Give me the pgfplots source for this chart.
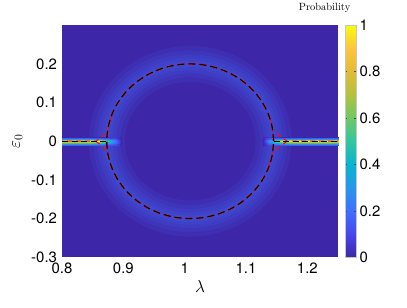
\documentclass[border=0pt]{standalone}
\usepackage{fontspec}
\newfontfamily\helv{TeX Gyre Heros}
\newfontfamily\lmr{Latin Modern Roman}
\usepackage{pgfplots}
\usepackage{pgfplotstable}
\pgfplotsset{compat=1.18}
\definecolor{bgc}{rgb}{0.2422,0.1504,0.6603}
\definecolor{glowc}{rgb}{0.2440,0.4358,0.9988}
\definecolor{redc}{rgb}{0.95,0.05,0.05}

\pgfplotstableread{
x y
1.145 0
1.1429 0.0347
1.1368 0.0684
1.1268 0.1
1.1132 0.1286
1.0964 0.1532
1.077 0.1732
1.0555 0.1879
1.0326 0.1970
1.009 0.2
0.9854 0.1970
0.9625 0.1879
0.941 0.1732
0.9216 0.1532
0.9048 0.1286
0.8912 0.1
0.8812 0.0684
0.8751 0.0347
0.873 0
0.8751 -0.0347
0.8812 -0.0684
0.8912 -0.1
0.9048 -0.1286
0.9216 -0.1532
0.941 -0.1732
0.9625 -0.1879
0.9854 -0.1970
1.009 -0.2
1.0326 -0.1970
1.0555 -0.1879
1.077 -0.1732
1.0964 -0.1532
1.1132 -0.1286
1.1268 -0.1
1.1368 -0.0684
1.1429 -0.0347
1.145 0
}\ellipsedata

\pgfplotstableread{
x y
0.8 0
0.855 0
0.866 0.013
0.8745 0.03
0.8812 0.0684
}\redleftup

\pgfplotstableread{
x y
0.855 0
0.866 -0.013
0.8745 -0.03
0.8812 -0.0684
}\redleftdown

\pgfplotstableread{
x y
1.25 0
1.167 0
1.155 0.014
1.1435 0.03
1.1368 0.0684
}\redrightup

\pgfplotstableread{
x y
1.167 0
1.155 -0.014
1.1435 -0.03
1.1368 -0.0684
}\redrightdown

\pgfplotstableread{
x y c
0.8 -0.012 0
0.845 -0.012 0
0.862 -0.012 0
0.873 -0.012 0.03
0.884 -0.012 0.06
0.897 -0.012 0

0.8 -0.007 0.3
0.845 -0.007 0.3
0.862 -0.007 0.27
0.873 -0.007 0.2
0.884 -0.007 0.15
0.897 -0.007 0

0.8 -0.003 0.75
0.845 -0.003 0.75
0.862 -0.003 0.68
0.873 -0.003 0.42
0.884 -0.003 0.24
0.897 -0.003 0

0.8 0 1
0.845 0 1
0.862 0 0.9
0.873 0 0.55
0.884 0 0.28
0.897 0 0

0.8 0.003 0.75
0.845 0.003 0.75
0.862 0.003 0.68
0.873 0.003 0.42
0.884 0.003 0.24
0.897 0.003 0

0.8 0.007 0.3
0.845 0.007 0.3
0.862 0.007 0.27
0.873 0.007 0.2
0.884 0.007 0.15
0.897 0.007 0

0.8 0.012 0
0.845 0.012 0
0.862 0.012 0
0.873 0.012 0.03
0.884 0.012 0.06
0.897 0.012 0
}\leftbar

\pgfplotstableread{
x y c
1.127 -0.012 0
1.137 -0.012 0.06
1.146 -0.012 0.03
1.158 -0.012 0
1.175 -0.012 0
1.25 -0.012 0

1.127 -0.007 0
1.137 -0.007 0.15
1.146 -0.007 0.2
1.158 -0.007 0.26
1.175 -0.007 0.3
1.25 -0.007 0.3

1.127 -0.003 0
1.137 -0.003 0.24
1.146 -0.003 0.42
1.158 -0.003 0.64
1.175 -0.003 0.75
1.25 -0.003 0.75

1.127 0 0
1.137 0 0.28
1.146 0 0.55
1.158 0 0.85
1.175 0 0.95
1.25 0 0.95

1.127 0.003 0
1.137 0.003 0.24
1.146 0.003 0.42
1.158 0.003 0.64
1.175 0.003 0.75
1.25 0.003 0.75

1.127 0.007 0
1.137 0.007 0.15
1.146 0.007 0.2
1.158 0.007 0.26
1.175 0.007 0.3
1.25 0.007 0.3

1.127 0.012 0
1.137 0.012 0.06
1.146 0.012 0.03
1.158 0.012 0
1.175 0.012 0
1.25 0.012 0
}\rightbar

\begin{document}
\begin{tikzpicture}
\begin{axis}[
  name=main,
  scale only axis,
  width=276bp, height=232bp,
  xmin=0.8, xmax=1.25, ymin=-0.3, ymax=0.3,
  xtick={0.8,0.9,1,1.1,1.2},
  ytick={-0.3,-0.2,-0.1,0,0.1,0.2},
  axis background/.style={fill=bgc},
  axis line style={draw=none},
  major tick length=0pt,
  /pgf/number format/assume math mode=true,
  tick label style={font=\helv\fontsize{15}{17}\selectfont},
  xticklabel style={yshift=-2bp},
  yticklabel style={xshift=-1.5bp},
  xlabel={$\lambda$}, ylabel={$\varepsilon_0$},
  label style={font=\fontsize{17}{19}\selectfont},
  ylabel style={yshift=2bp},
  colormap={parula}{rgb=(0.2422,0.1504,0.6603) rgb=(0.2803,0.2782,0.9221) rgb=(0.2440,0.4358,0.9988) rgb=(0.1540,0.5902,0.9218) rgb=(0.0297,0.7082,0.8163) rgb=(0.1938,0.7758,0.6251) rgb=(0.4420,0.7828,0.4031) rgb=(0.7012,0.7616,0.2431) rgb=(0.8814,0.7378,0.2056) rgb=(0.9932,0.7723,0.2390) rgb=(0.9763,0.9831,0.0538)},
  point meta min=0, point meta max=1,
  colorbar,
  colorbar shift/.style={xshift=7bp},
  colorbar style={
    width=11bp,
    ytick={0,0.2,0.4,0.6,0.8,1},
    /pgf/number format/assume math mode=true,
    yticklabel style={font=\helv\fontsize{15}{17}\selectfont},
    major tick length=2bp,
    tick align=inside,
    tick style={draw=black!70, line width=0.4bp},
    axis line style={draw=gray!45, line width=0.4bp},
    title={Probability},
    title style={at={(0.5,1)}, anchor=south, font=\lmr\fontsize{10.5}{12}\selectfont, yshift=3bp, xshift=-26bp},
  },
]
\addplot[glowc, line width=36bp, opacity=0.11, smooth] table {\ellipsedata};
\addplot[glowc, line width=27bp, opacity=0.12, smooth] table {\ellipsedata};
\addplot[glowc, line width=19bp, opacity=0.12, smooth] table {\ellipsedata};
\addplot[glowc, line width=12bp, opacity=0.12, smooth] table {\ellipsedata};
\addplot[glowc, line width=6bp, opacity=0.12, smooth] table {\ellipsedata};

\addplot[surf, shader=interp, mesh/cols=6, point meta=explicit] table[x=x, y=y, meta=c] {\leftbar};
\addplot[surf, shader=interp, mesh/cols=6, point meta=explicit] table[x=x, y=y, meta=c] {\rightbar};

\addplot[redc, line width=1.7bp, dash pattern=on 7bp off 4bp, smooth] table {\ellipsedata};
\addplot[redc, line width=1bp, dash pattern=on 5bp off 4bp, dash phase=4bp] table {\redleftup};
\addplot[redc, line width=1bp, dash pattern=on 5bp off 4bp] table {\redleftdown};
\addplot[redc, line width=1bp, dash pattern=on 5bp off 4bp, dash phase=4bp] table {\redrightup};
\addplot[redc, line width=1bp, dash pattern=on 5bp off 4bp] table {\redrightdown};

\addplot[black, line width=1.1bp, dash pattern=on 7bp off 4bp, smooth] table {\ellipsedata};
\addplot[black, line width=1.1bp, dash pattern=on 6bp off 3.5bp] coordinates {(0.8,0) (0.873,0)};
\addplot[black, line width=1.1bp, dash pattern=on 6bp off 3.5bp] coordinates {(1.145,0) (1.25,0)};
\end{axis}
\path (main.south west) ++(-62bp,-50bp) rectangle ++(407bp,305bp);
\end{tikzpicture}
\end{document}
